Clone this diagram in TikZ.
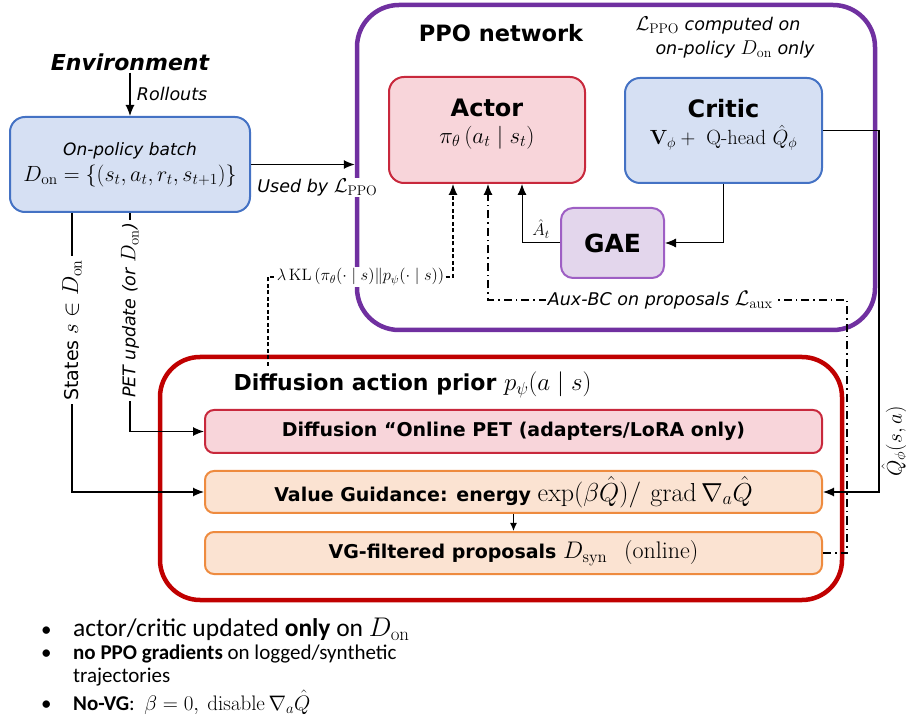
\RequirePackage{fix-cm}
\documentclass[tikz,border=0pt]{standalone}
\usepackage{amsmath}
\usepackage{amssymb}
\usepackage[no-math]{fontspec}
\setsansfont{DejaVu Sans}
\newfontfamily\notefont{Carlito}
\usepackage{xcolor}
\usetikzlibrary{arrows.meta,positioning,calc}

\definecolor{ppopurple}{HTML}{7030A0}
\definecolor{priorred}{HTML}{C00000}
\definecolor{actorfill}{HTML}{F8D5DA}
\definecolor{actorline}{HTML}{C8283C}
\definecolor{criticfill}{HTML}{D6E0F3}
\definecolor{criticline}{HTML}{4472C4}
\definecolor{gaefill}{HTML}{E3D6EC}
\definecolor{gaeline}{HTML}{9E5FC4}
\definecolor{vgfill}{HTML}{FBE3D2}
\definecolor{vgline}{HTML}{EE8B3F}

% math set at its own size next to the sans text
\newcommand\sized[2]{{\fontsize{#1}{#1}\selectfont#2}}

\begin{document}
\begin{tikzpicture}[
    x=1pt, y=-1pt,
    font=\sffamily,
    frame/.style={rectangle, rounded corners=42pt, line width=4.5pt},
    box/.style={rectangle, rounded corners=15pt, line width=2pt, align=center},
    slab/.style={rectangle, rounded corners=9pt, line width=2pt, minimum width=617pt, minimum height=42pt, font=\sffamily\bfseries\fontsize{19}{22}\selectfont},
    arrow/.style={-{Latex[length=11pt,width=9pt]}, line width=1.2pt},
    kl/.style={arrow, dash pattern=on 4pt off 2.5pt},
    auxbc/.style={arrow, line width=1.1pt, dash pattern=on 8pt off 4pt on 1.5pt off 4pt},
    note/.style={font=\sffamily\itshape\fontsize{17.5}{24}\selectfont}
]
\useasboundingbox (0,0) rectangle (906,719);

% environment and on-policy batch
\node[font=\sffamily\bfseries\itshape\fontsize{22}{26}\selectfont, inner sep=2pt] (env) at (130,62) {Environment};
\node[box, draw=criticline, fill=criticfill, minimum width=240pt, minimum height=95pt] (batch) at (130,164.5)
    {\itshape\fontsize{17}{19}\selectfont On-policy batch\\[5pt]
     \sized{22}{$D_{\mathrm{on}}=\{(s_t,a_t,r_t,s_{t+1})\}$}};
\draw[arrow] (env.south) -- (batch.north) node[note, midway, right=3pt] {Rollouts};

% PPO network
\node[frame, draw=ppopurple, minimum width=518pt, minimum height=325pt] (ppo) at (616,167.5) {};
\node[font=\sffamily\bfseries\fontsize{22.5}{26}\selectfont] (ppotitle) at (501,33) {PPO network};
\node[note, align=left, anchor=west] (pponote) at (632,37)
    {\sized{20}{$\mathcal{L}_{\mathrm{PPO}}$} computed on\\\hspace*{20pt}on-policy \sized{20}{$D_{\mathrm{on}}$} only};

\node[box, draw=actorline, fill=actorfill, minimum width=196pt, minimum height=106pt] (actor) at (487,130)
    {\bfseries\fontsize{24}{26}\selectfont Actor\\[8pt]
     \sized{23}{$\pi_\theta\,(a_t\mid s_t)$}\rule[-17pt]{0pt}{17pt}};
\node[box, draw=criticline, fill=criticfill, minimum width=197pt, minimum height=105pt] (critic) at (723.5,130.5)
    {\bfseries\fontsize{24}{26}\selectfont Critic\\[6pt]
     \sized{20.5}{$\mathbf{V}_\phi+\ \textrm{Q-head}\ \hat{Q}_\phi$}\rule[-17pt]{0pt}{17pt}};
\node[box, draw=gaeline, fill=gaefill, minimum width=103pt, minimum height=70pt, rounded corners=12pt,
    font=\sffamily\bfseries\fontsize{25}{28}\selectfont] (gae) at (612.5,243) {GAE};

\draw[arrow, line width=1pt] (critic.south) |- (gae.east);
\draw[arrow, line width=1pt] (gae.west) -| ([xshift=35pt]actor.south)
    node[pos=0.25, above=1pt, font=\fontsize{17}{19}\selectfont] {$\hat{A}_t$};

% diffusion action prior
\node[frame, draw=priorred, minimum width=682pt, minimum height=243pt, rounded corners=40pt] (prior) at (501,478.5) {};
\node[anchor=west, font=\sffamily\bfseries\fontsize{22}{24}\selectfont] (priortitle) at (230,385)
    {Diffusion action prior \sized{25}{$p_\psi(a\mid s)$}};
\node[slab, draw=actorline, fill=actorfill, minimum height=43pt] (pet) at (513.5,431.5)
    {Diffusion ``Online PET (adapters/LoRA only)};
\node[slab, draw=vgline, fill=vgfill, below=16pt of pet] (vg)
    {Value Guidance: energy \sized{26}{$\exp(\beta\hat{Q})/\ \mathrm{grad}\,\nabla_a\hat{Q}$}};
\node[slab, draw=vgline, fill=vgfill, below=17pt of vg] (vgf)
    {VG-filtered proposals \sized{24}{$D_{\mathrm{syn}}$ \ \textnormal{(online)}}};
\draw[arrow, -{Latex[length=8pt,width=7pt]}] (vg.south) -- (vgf.north);

% connectors
\draw[arrow] (batch.east) -- (batch.east -| ppo.west)
    node[note, pos=0.64, below=13pt, fill=white, inner sep=1pt] {Used by \sized{20}{$\mathcal{L}_{\mathrm{PPO}}$}};
\draw[arrow] ([xshift=-58pt]batch.south) |- (vg.west)
    node[pos=0.21, rotate=90, fill=white, font=\sffamily\fontsize{19}{21}\selectfont] {States \sized{23}{$s\in D_{\mathrm{on}}$}};
\draw[arrow] (batch.south) |- (pet.west)
    node[pos=0.223, rotate=90, fill=white, note] {PET update (or \sized{21}{$D_{\mathrm{on}}$})};
\draw[arrow] (critic.east) -- ++(56,0) |- (vg.east)
    node[pos=0.43, rotate=90, anchor=north, inner sep=2pt, font=\fontsize{21}{23}\selectfont] {$\hat{Q}_\phi(s,a)$};

\coordinate (klfoot) at (268,366);
\draw[kl] (klfoot) -- ++(0,-89) -| ([xshift=-34pt]actor.south)
    node[pos=0.25, fill=white, inner sep=1pt, font=\fontsize{16.5}{18}\selectfont]
    {$\lambda\,\mathrm{KL}\left(\pi_\theta(\cdot\mid s)\|p_\psi(\cdot\mid s)\right)$};

\coordinate (auxturn) at (847,300);
\draw[auxbc] (vgf.east) -| (auxturn) -| ([xshift=1pt]actor.south)
    node[note, pos=0.26, fill=white, inner sep=2pt] {Aux-BC on proposals \sized{21}{$\mathcal{L}_{\mathrm{aux}}$}};

% notes below the diagram
\node[anchor=north west, align=left, inner sep=0pt, font=\notefont\fontsize{21}{23}\selectfont] (notes) at (41,618)
    {\makebox[32pt][l]{\textbullet}{\fontsize{25.5}{25}\selectfont actor/critic updated \textbf{only} on \sized{27}{$D_{\mathrm{on}}$}}\\
     \makebox[32pt][l]{\textbullet}\textbf{no PPO gradients} on logged/synthetic\\
     \hspace*{32pt}trajectories\\[3pt]
     \makebox[32pt][l]{\textbullet}\textbf{No-VG}: \ \sized{21}{$\beta=0,\ \mathrm{disable}\,\nabla_a\hat{Q}$}};
\end{tikzpicture}
\end{document}
